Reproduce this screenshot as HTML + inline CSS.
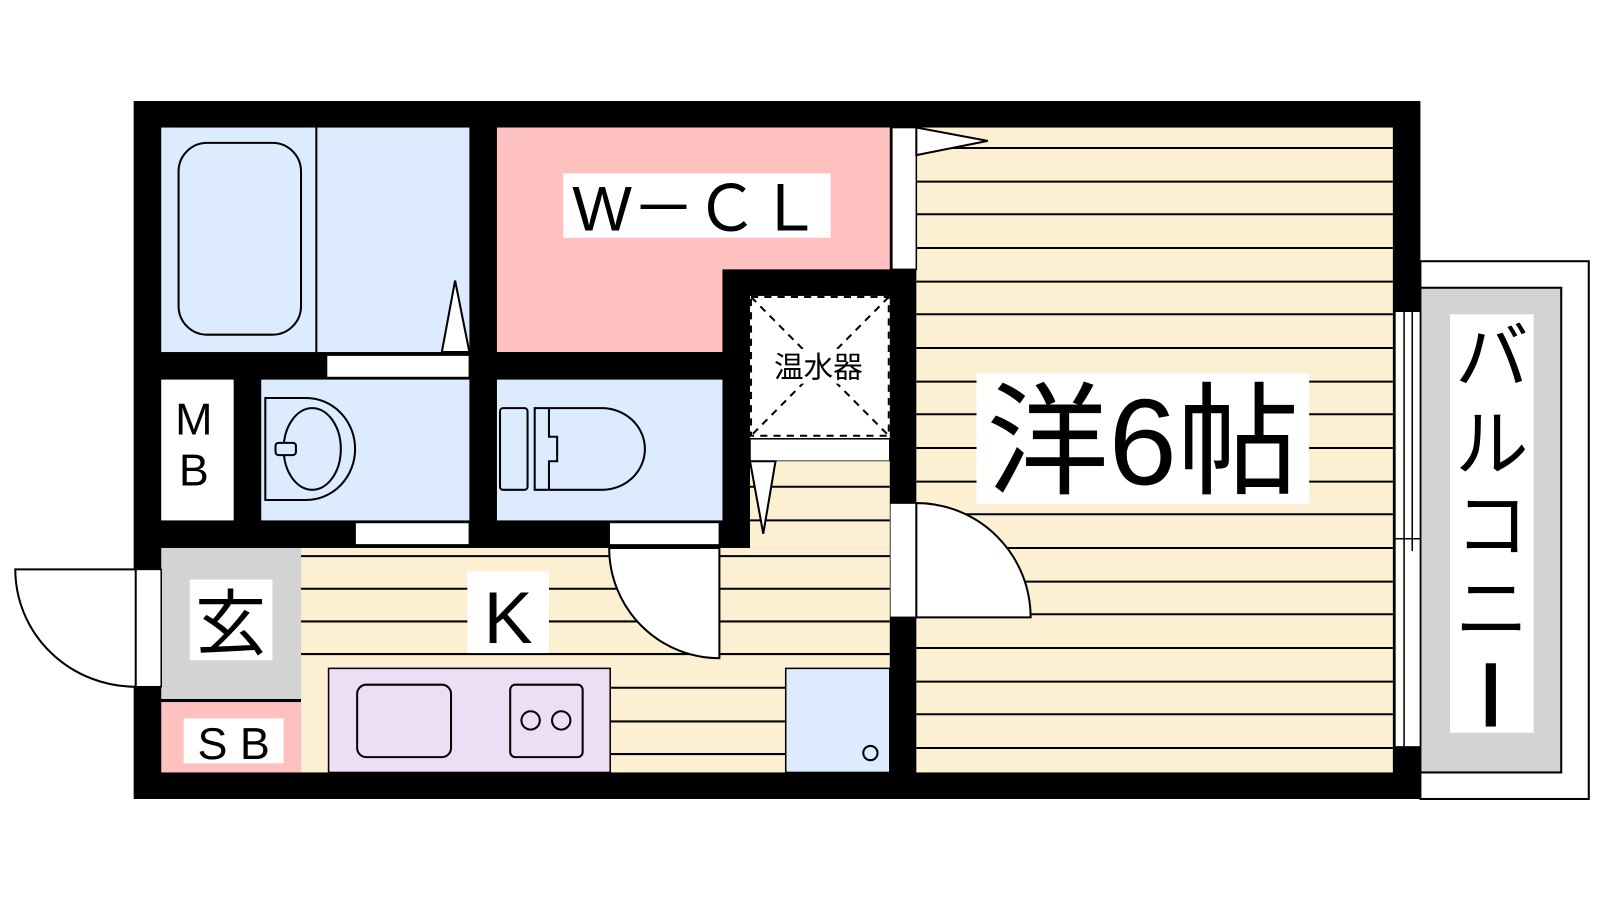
<!DOCTYPE html>
<html><head><meta charset="utf-8"><style>html,body{margin:0;padding:0;background:#fff;overflow:hidden}svg{display:block}text{font-family:"Liberation Sans","Noto Sans CJK JP",sans-serif}</style></head><body>
<svg width="1600" height="900" viewBox="0 0 1568 882" preserveAspectRatio="none" xmlns="http://www.w3.org/2000/svg">
<rect width="1568" height="882" fill="#fff"/>
<!-- balcony -->
<rect x="1392" y="256" width="165" height="527" fill="#fff" stroke="#000" stroke-width="2"/>
<rect x="1392" y="282" width="138" height="475" fill="#d3d3d3" stroke="#000" stroke-width="2"/>
<rect x="1421" y="308" width="82" height="410" fill="#fff"/>
<text x="1462" y="375" font-size="72" text-anchor="middle">バ</text>
<text x="1462" y="460" font-size="72" text-anchor="middle">ル</text>
<text x="1462" y="540" font-size="72" text-anchor="middle">コ</text>
<text x="1462" y="622" font-size="72" text-anchor="middle">ニ</text>
<rect x="1456" y="650" width="10" height="62" fill="#000"/>
<!-- outer wall -->
<rect x="131" y="99" width="1261" height="684" fill="#000"/>
<!-- main room -->
<rect x="898" y="125" width="467" height="632" fill="#fdf0d2"/>
<g stroke="#000" stroke-width="2">
<line x1="898" y1="145" x2="1365" y2="145"/><line x1="898" y1="178" x2="1365" y2="178"/><line x1="898" y1="210" x2="1365" y2="210"/><line x1="898" y1="243" x2="1365" y2="243"/><line x1="898" y1="276" x2="1365" y2="276"/><line x1="898" y1="308" x2="1365" y2="308"/><line x1="898" y1="341" x2="1365" y2="341"/><line x1="898" y1="374" x2="1365" y2="374"/><line x1="898" y1="406" x2="1365" y2="406"/><line x1="898" y1="439" x2="1365" y2="439"/><line x1="898" y1="472" x2="1365" y2="472"/><line x1="898" y1="504" x2="1365" y2="504"/><line x1="898" y1="537" x2="1365" y2="537"/><line x1="898" y1="570" x2="1365" y2="570"/><line x1="898" y1="602" x2="1365" y2="602"/><line x1="898" y1="635" x2="1365" y2="635"/><line x1="898" y1="668" x2="1365" y2="668"/><line x1="898" y1="700" x2="1365" y2="700"/><line x1="898" y1="733" x2="1365" y2="733"/>
</g>
<rect x="957" y="366" width="326" height="128" fill="#fff"/>
<text x="1120" y="475" font-size="120" text-anchor="middle">洋6帖</text>
<!-- balcony window -->
<rect x="1367" y="305" width="25" height="427" fill="#fff" stroke="#000" stroke-width="1.5"/>
<line x1="1376" y1="305" x2="1376" y2="732" stroke="#000" stroke-width="1.5"/>
<line x1="1384" y1="305" x2="1384" y2="540" stroke="#000" stroke-width="1.5"/>
<line x1="1367" y1="528" x2="1392" y2="528" stroke="#000" stroke-width="1.5"/>
<!-- door into room -->
<rect x="872" y="493" width="26" height="112" fill="#fff" stroke="#000" stroke-width="1.5"/>
<path d="M898 493 A112 112 0 0 1 1010 605 L898 605 Z" fill="#fff" stroke="#000" stroke-width="2"/>
<!-- top door strip -->
<rect x="874" y="125" width="24" height="139" fill="#fff" stroke="#000" stroke-width="1.5"/>
<polygon points="898,125 968,138 898,152" fill="#fff" stroke="#000" stroke-width="2"/>
<!-- bath -->
<rect x="158" y="125" width="302" height="220" fill="#dcebfd"/>
<line x1="310" y1="125" x2="310" y2="345" stroke="#000" stroke-width="2"/>
<rect x="175" y="140" width="120" height="188" rx="28" fill="none" stroke="#000" stroke-width="2"/>
<rect x="320" y="348" width="140" height="22" fill="#fff" stroke="#000" stroke-width="1.5"/>
<polygon points="433,345 446,275 460,345" fill="#fff" stroke="#000" stroke-width="2"/>
<!-- WCL -->
<path d="M487 125 H872 V264 H708 V345 H487 Z" fill="#ffc0c0"/>
<rect x="552" y="170" width="262" height="63" fill="#fff"/>
<text x="683" y="226" font-size="62" text-anchor="middle">W－ＣＬ</text>
<!-- water heater -->
<rect x="735" y="290" width="137" height="140" fill="#fff"/>
<rect x="736" y="291" width="135" height="136" fill="none" stroke="#000" stroke-width="2" stroke-dasharray="7,6"/>
<line x1="736" y1="291" x2="871" y2="427" stroke="#000" stroke-width="2" stroke-dasharray="7,6"/>
<line x1="871" y1="291" x2="736" y2="427" stroke="#000" stroke-width="2" stroke-dasharray="7,6"/>
<rect x="752" y="342" width="100" height="34" fill="#fff"/>
<text x="802" y="370" font-size="29" text-anchor="middle">温水器</text>
<rect x="735" y="430" width="137" height="22" fill="#fff" stroke="#000" stroke-width="1.5"/>
<!-- kitchen area -->
<rect x="295" y="537" width="577" height="220" fill="#fdf0d2"/>
<rect x="735" y="452" width="137" height="85" fill="#fdf0d2"/>
<g stroke="#000" stroke-width="2">
<line x1="735" y1="477" x2="872" y2="477"/><line x1="735" y1="510" x2="872" y2="510"/>
<line x1="295" y1="545" x2="872" y2="545"/><line x1="295" y1="577" x2="872" y2="577"/><line x1="295" y1="609" x2="872" y2="609"/><line x1="295" y1="641" x2="872" y2="641"/><line x1="598" y1="674" x2="872" y2="674"/><line x1="598" y1="707" x2="872" y2="707"/><line x1="598" y1="739" x2="872" y2="739"/>
</g>
<polygon points="735,452 748,523 760,452" fill="#fff" stroke="#000" stroke-width="2"/>
<!-- MB / wash / toilet -->
<rect x="158" y="372" width="71" height="138" fill="#fff"/>
<text x="190" y="426" font-size="44" text-anchor="middle">M</text>
<text x="190" y="476" font-size="44" text-anchor="middle">B</text>
<rect x="256" y="372" width="204" height="138" fill="#dcebfd"/>
<path d="M260 390 H300 A48 50 0 0 1 300 490 H260 Z" fill="none" stroke="#000" stroke-width="2"/>
<ellipse cx="306" cy="440" rx="28" ry="40" fill="none" stroke="#000" stroke-width="2"/>
<rect x="270" y="434" width="20" height="12" rx="3" fill="#dcebfd" stroke="#000" stroke-width="2"/>
<rect x="487" y="372" width="221" height="138" fill="#dcebfd"/>
<rect x="490" y="400" width="27" height="80" rx="3" fill="none" stroke="#000" stroke-width="2"/>
<path d="M524 400 H590 A42 40 0 0 1 590 480 H524 Z" fill="none" stroke="#000" stroke-width="2"/>
<path d="M538 400 V428 H546 V452 H538 V480" fill="none" stroke="#000" stroke-width="2"/>
<rect x="348" y="512" width="112" height="22" fill="#fff" stroke="#000" stroke-width="1.5"/>
<rect x="597" y="512" width="108" height="22" fill="#fff" stroke="#000" stroke-width="1.5"/>
<path d="M597 537 A108 108 0 0 0 705 645 V537 Z" fill="#fff" stroke="#000" stroke-width="2"/>
<rect x="458" y="560" width="80" height="80" fill="#fff"/>
<text x="498" y="630" font-size="72" text-anchor="middle">K</text>
<!-- genkan / SB -->
<rect x="158" y="537" width="137" height="148" fill="#d3d3d3"/>
<rect x="186" y="568" width="81" height="79" fill="#fff"/>
<text x="226" y="636" font-size="70" text-anchor="middle">玄</text>
<rect x="158" y="688" width="137" height="69" fill="#ffc0c0"/>
<rect x="180" y="704" width="98" height="44" fill="#fff"/>
<text x="229" y="744" font-size="44" text-anchor="middle">S B</text>
<!-- kitchen counter -->
<rect x="322" y="655" width="276" height="102" fill="#ecdff5" stroke="#000" stroke-width="1.5"/>
<rect x="350" y="671" width="92" height="71" rx="9" fill="none" stroke="#000" stroke-width="2"/>
<rect x="500" y="671" width="71" height="71" rx="5" fill="none" stroke="#000" stroke-width="2"/>
<circle cx="520" cy="706" r="9" fill="none" stroke="#000" stroke-width="2"/>
<circle cx="550" cy="706" r="9" fill="none" stroke="#000" stroke-width="2"/>
<rect x="770" y="655" width="102" height="102" fill="#dcebfd" stroke="#000" stroke-width="1.5"/>
<circle cx="853" cy="738" r="7" fill="none" stroke="#000" stroke-width="2"/>
<!-- entrance door -->
<rect x="133" y="558" width="25" height="115" fill="#fff" stroke="#000" stroke-width="1.5"/>
<path d="M15 558 H133 V673 A118 115 0 0 1 15 558 Z" fill="#fff" stroke="#000" stroke-width="2"/>
</svg>
</body></html>
